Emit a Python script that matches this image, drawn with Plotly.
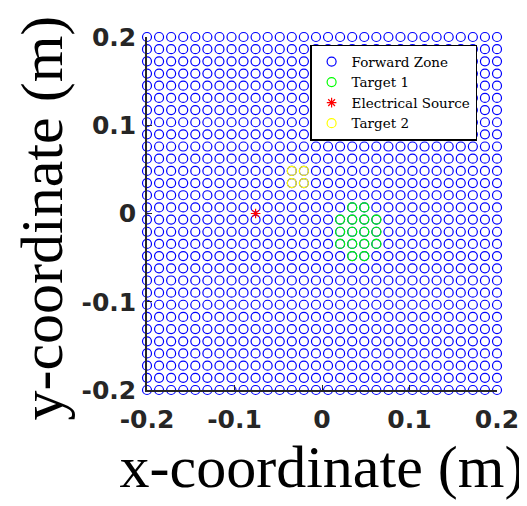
import plotly.graph_objects as go

# grid coordinates (m), 30 per axis
grid = [-0.2, -0.1862, -0.1724, -0.1586, -0.1448, -0.131, -0.1172, -0.1034,
        -0.0897, -0.0759, -0.0621, -0.0483, -0.0345, -0.0207, -0.0069,
        0.0069, 0.0207, 0.0345, 0.0483, 0.0621, 0.0759, 0.0897, 0.1034,
        0.1172, 0.131, 0.1448, 0.1586, 0.1724, 0.1862, 0.2]

target1_x = [0.0345, 0.0483,
             0.0207, 0.0345, 0.0483, 0.0621,
             0.0207, 0.0345, 0.0483, 0.0621,
             0.0207, 0.0345, 0.0483, 0.0621,
             0.0345, 0.0483]
target1_y = [0.0069, 0.0069,
             -0.0069, -0.0069, -0.0069, -0.0069,
             -0.0207, -0.0207, -0.0207, -0.0207,
             -0.0345, -0.0345, -0.0345, -0.0345,
             -0.0483, -0.0483]

target2_x = [-0.0345, -0.0207, -0.0345, -0.0207]
target2_y = [0.0483, 0.0483, 0.0345, 0.0345]

source_x = [-0.0759]
source_y = [0.0]

tick_vals = [-0.2, -0.1, 0, 0.1, 0.2]
tick_text = ["-0.2", "-0.1", "0", "0.1", "0.2"]

fz_x = [gx for gy in grid for gx in grid]
fz_y = [gy for gy in grid for gx in grid]

fig = go.Figure()
fig.add_trace(go.Scatter(x=fz_x, y=fz_y, mode="markers", name="Forward Zone",
                         cliponaxis=False,
                         marker=dict(symbol="circle-open", size=9,
                                     color="#0000ff", line=dict(width=1.2))))
fig.add_trace(go.Scatter(x=target1_x, y=target1_y, mode="markers", name="Target 1",
                         cliponaxis=False,
                         marker=dict(symbol="circle-open", size=9,
                                     color="#00ff00", line=dict(width=1.2))))
fig.add_trace(go.Scatter(x=source_x, y=source_y, mode="markers", name="Electrical Source",
                         cliponaxis=False,
                         marker=dict(symbol="asterisk-open", size=8,
                                     color="red", line=dict(width=1.2, color="red"))))
fig.add_trace(go.Scatter(x=target2_x, y=target2_y, mode="markers", name="Target 2",
                         cliponaxis=False,
                         marker=dict(symbol="circle-open", size=9,
                                     color="#ffff00", line=dict(width=1.2))))

axis_common = dict(
    tickmode="array", tickvals=tick_vals, ticktext=tick_text,
    ticks="inside", ticklen=5, tickwidth=1.2, tickcolor="#262626",
    showline=True, linecolor="#262626", linewidth=1.6,
    showgrid=False, zeroline=False, mirror=False,
    tickfont=dict(family="DejaVu Sans", size=25, color="#262626", weight="bold"),
    automargin=False,
)

fig.update_xaxes(range=[-0.2, 0.2], ticklabelstandoff=6,
                 title=dict(text="x-coordinate (m)", standoff=10,
                            font=dict(family="Liberation Serif", size=60, color="black")),
                 **axis_common)
fig.update_yaxes(range=[-0.2, 0.2], ticklabelstandoff=4, **axis_common)

fig.add_annotation(text="y-coordinate (m)", textangle=-90, showarrow=False,
                   xref="paper", yref="paper", x=0, y=0.5,
                   xanchor="center", yanchor="middle", xshift=-106, yshift=-5,
                   font=dict(family="Liberation Serif", size=60, color="black"))

fig.update_layout(
    width=527, height=506,
    margin=dict(l=139, r=38, t=29, b=124),
    paper_bgcolor="white", plot_bgcolor="white",
    showlegend=True,
    legend=dict(x=0.466, y=0.978, xanchor="left", yanchor="top",
                bgcolor="white", bordercolor="black", borderwidth=1.5,
                font=dict(family="DejaVu Serif", size=13.5, color="black"),
                tracegroupgap=0),
)

fig.write_html("out.html")
